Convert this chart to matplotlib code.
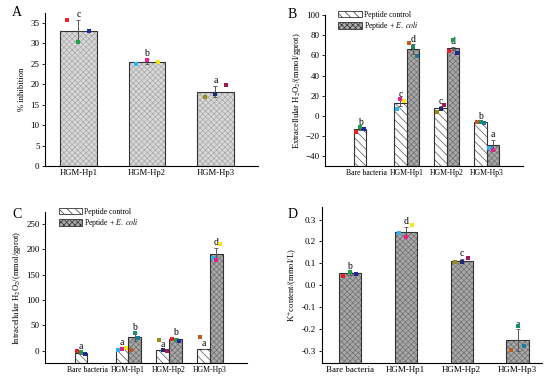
import numpy as np
import matplotlib

matplotlib.use("Agg")
import matplotlib.pyplot as plt
from matplotlib.patches import Patch

plt.rcParams["font.family"] = ["Liberation Serif", "DejaVu Serif"]
plt.rcParams["mathtext.fontset"] = "stix"
plt.rcParams["font.size"] = 6.5
plt.rcParams["hatch.linewidth"] = 0.5

# ---- data ----
groups_A = ["HGM-Hp1", "HGM-Hp2", "HGM-Hp3"]
inhibition = [33.0, 25.5, 18.2]
inhibition_err = [2.7, 0.6, 1.3]
letters_A = ["c", "b", "a"]
dots_A = [[35.6, 30.2, 33.0], [25.0, 26.0, 25.5], [16.9, 17.6, 19.9]]

groups = ["Bare bacteria", "HGM-Hp1", "HGM-Hp2", "HGM-Hp3"]

extra_ctrl = [-13.0, 13.0, 7.5, -6.5]
extra_ctrl_err = [1.5, 3.0, 2.0, 0.8]
extra_ecoli = [np.nan, 66.0, 67.0, -29.0]
extra_ecoli_err = [np.nan, 5.0, 1.5, 5.0]
letters_B_ctrl = ["b", "c", "c", "b"]
letters_B_ecoli = ["", "d", "d", "a"]
dots_B_ctrl = [[-16, -11, -13], [6.5, 17, 15], [4, 6.5, 11], [-6.5, -6.5, -7]]
dots_B_ecoli = [[], [72, 68, 59], [64.5, 75, 62], [-32, -34]]

intra_ctrl = [-5.0, 5.0, 1.0, 3.0]
intra_ctrl_err = [2.0, 1.5, 1.0, 0.0]
intra_ecoli = [np.nan, 28.0, 23.0, 190.0]
intra_ecoli_err = [np.nan, 8.0, 1.5, 13.0]
letters_C_ctrl = ["a", "a", "a", "a"]
letters_C_ecoli = ["", "b", "b", "d"]
dots_C_ctrl = [[0, -2, -7], [2, 4, 6], [22, 1, 0], [27]]
dots_C_ecoli = [[], [2, 36, 25], [24, 22, 20], [182, 178, 210]]

potassium = [0.055, 0.245, 0.113, -0.25]
potassium_err = [0.007, 0.02, 0.007, 0.05]
letters_D = ["b", "d", "c", "a"]
dots_D = [[0.045, 0.062, 0.053], [0.24, 0.22, 0.275], [0.108, 0.108, 0.125], [-0.292, -0.185, -0.275]]

# ---- style ----
DOT_COLORS = [
    ["#e8202a", "#1f9e4a", "#1f2a9e"],
    ["#2ab5f0", "#e8208a", "#f5e61a"],
    ["#9a8a1a", "#1f2a6e", "#a01a5a"],
    ["#c05a20", "#1f8a6a", "#1a7a9a"],
]
DOT_OFFSETS = [-0.3, 0.0, 0.3]
GRAY_FACE, GRAY_HATCH = "#a8a8a8", "#707070"
LIGHT_FACE, LIGHT_HATCH = "#d8d8d8", "#a8a8a8"


def style_axes(ax, xsize):
    for side in ["top", "right"]:
        ax.spines[side].set_visible(False)
    ax.spines["left"].set_linewidth(0.8)
    ax.spines["bottom"].set_linewidth(0.8)
    ax.tick_params(axis="y", direction="out", length=2.5, width=0.6, pad=1.5, labelsize=6.5)
    ax.tick_params(axis="x", direction="in", length=2, width=0.6, pad=2, labelsize=xsize)


def hatched_bar(ax, x, h, w, bottom, face, hatch_col, hatch):
    ax.bar(x, h, w, bottom=bottom, color=face, edgecolor=hatch_col, hatch=hatch, linewidth=0, zorder=2)
    ax.bar(x, h, w, bottom=bottom, fill=False, edgecolor="#333333", linewidth=0.8, zorder=3)


def add_dots(ax, x, w, vals, row):
    for i, v in enumerate(vals):
        ax.scatter(x + DOT_OFFSETS[i] * w, v, s=5, marker="s", color=DOT_COLORS[row % 4][i],
                   linewidths=0, zorder=5)


def draw_bar(ax, x, val, err, w, base, face, hatch_col, hatch, letter, dots, row, pad):
    if np.isnan(val):
        return
    hatched_bar(ax, x, val - base, w, base, face, hatch_col, hatch)
    ax.errorbar(x, val, yerr=err, fmt="none", ecolor="#555555", elinewidth=0.7, capsize=1.5,
                capthick=0.6, zorder=4)
    ax.text(x, val + err + pad, letter, ha="center", va="bottom", fontsize=7)
    add_dots(ax, x, w, dots, row)


fig = plt.figure(figsize=(5.5, 3.8), dpi=100)

# ---- A ----
axA = fig.add_axes([0.082, 0.563, 0.387, 0.403])
xA = np.arange(len(groups_A)) + 1
wA = 0.53
for i in range(len(groups_A)):
    draw_bar(axA, xA[i], inhibition[i], inhibition_err[i], wA, 0, LIGHT_FACE, LIGHT_HATCH, "xxxxxx",
             letters_A[i], dots_A[i], i, 0.2)
axA.set_xlim(0.515, 3.62)
axA.set_ylim(0, 37.4)
axA.set_yticks(np.arange(0, 36, 5))
axA.set_xticks(xA)
axA.set_xticklabels(groups_A)
axA.set_ylabel("% inhibition", labelpad=3, fontsize=6.2)
style_axes(axA, 6.2)


# ---- B & C (grouped) ----
def grouped(ax, ctrl, ctrl_err, ecoli, ecoli_err, let_c, let_e, dc, de, ylim, yticks, ylabel, pad):
    x = np.arange(len(groups))
    w = 0.31
    base = ylim[0]
    for i in range(len(groups)):
        draw_bar(ax, x[i] - w / 2, ctrl[i], ctrl_err[i], w, base, "white", "#555555", "\\\\\\\\",
                 let_c[i], dc[i], i, pad)
        draw_bar(ax, x[i] + w / 2, ecoli[i], ecoli_err[i], w, base, GRAY_FACE, GRAY_HATCH, "xxxxxx",
                 let_e[i], de[i], (i + 2) % 4, pad)
    ax.set_xlim(-1.03, 3.9)
    ax.set_ylim(*ylim)
    ax.set_yticks(yticks)
    ax.set_xticks(x)
    ax.set_xticklabels(groups)
    ax.set_ylabel(ylabel, labelpad=2, fontsize=6.2)
    handles = [
        Patch(facecolor="white", edgecolor="#333333", hatch="\\\\\\\\", linewidth=0.6),
        Patch(facecolor=GRAY_FACE, edgecolor="#333333", hatch="xxxxxx", linewidth=0.6),
    ]
    ax.legend(handles, ["Peptide control", r"Peptide + $\mathit{E.\ coli}$"], loc="upper left",
              bbox_to_anchor=(0.04, 1.065), frameon=False, fontsize=5.6, handlelength=3.0,
              handleheight=0.9, handletextpad=0.3, labelspacing=0.05, borderpad=0.2)
    style_axes(ax, 5.6)


axB = fig.add_axes([0.591, 0.563, 0.36, 0.397])
grouped(axB, extra_ctrl, extra_ctrl_err, extra_ecoli, extra_ecoli_err, letters_B_ctrl, letters_B_ecoli,
        dots_B_ctrl, dots_B_ecoli, (-50, 100), np.arange(-40, 101, 20),
        r"Extracellular H$_2$O$_2$/(mmol/gprot)", 0.5)

axC = fig.add_axes([0.082, 0.0447, 0.367, 0.397])
grouped(axC, intra_ctrl, intra_ctrl_err, intra_ecoli, intra_ecoli_err, letters_C_ctrl, letters_C_ecoli,
        dots_C_ctrl, dots_C_ecoli, (-24, 273), np.arange(0, 251, 50),
        r"Intracellular H$_2$O$_2$/(mmol/gprot)", 2)

# ---- D ----
axD = fig.add_axes([0.585, 0.0447, 0.4, 0.41])
xD = np.arange(len(groups))
wD = 0.4
for i in range(len(groups)):
    draw_bar(axD, xD[i], potassium[i], potassium_err[i], wD, -0.353, GRAY_FACE, GRAY_HATCH, "xxxxxx",
             letters_D[i], dots_D[i], i, 0.004)
ticks_D = np.round(np.arange(-0.3, 0.31, 0.1), 1)
axD.set_xlim(-0.5, 3.43)
axD.set_ylim(-0.353, 0.356)
axD.set_yticks(ticks_D)
axD.set_yticklabels([f"{t:.1f}" for t in ticks_D])
axD.set_xticks(xD)
axD.set_xticklabels(groups)
axD.set_ylabel(r"K$^{+}$content/(mmol/L)", labelpad=2, fontsize=6.2)
style_axes(axD, 6.5)

# panel letters
for lbl, (px, py) in zip("ABCD", [(12, 13), (288, 15), (12, 215), (288, 215)]):
    fig.text(px / 550, 1 - py / 380, lbl, fontsize=10, ha="left", va="center")

fig.savefig("out.png", dpi=100)
